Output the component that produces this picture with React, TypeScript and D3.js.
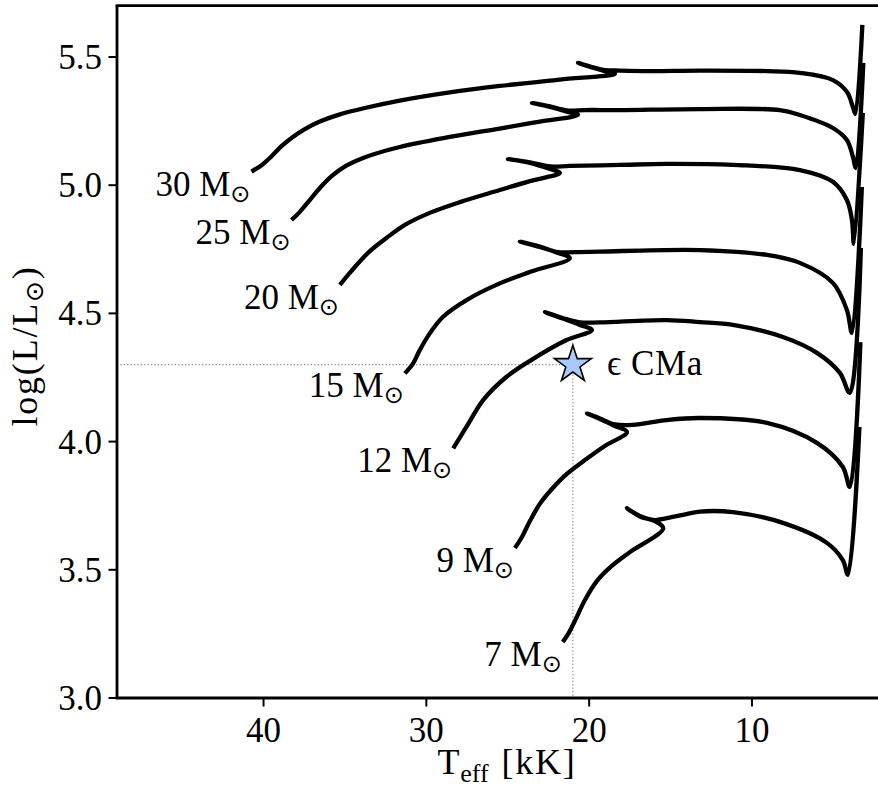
import React from "react";
import * as d3 from "d3";

// Evolutionary tracks: [Teff (kK), log(L/Lsun)]
const masses = [30, 25, 20, 15, 12, 9, 7];

const track30: [number, number][] = [
  [40.74, 5.053], [40.1, 5.079], [39.49, 5.114], [38.88, 5.153], [38.2, 5.188], [37.46, 5.219],
  [36.54, 5.248], [35.31, 5.276], [33.78, 5.301], [31.63, 5.33], [28.56, 5.362], [25.49, 5.387],
  [21.8, 5.412], [18.42, 5.434],
  [19.04, 5.445], [19.83, 5.459], [20.69, 5.477],
  [19.83, 5.461], [19.04, 5.449], [18.11, 5.447], [16.27, 5.445], [13.2, 5.447], [9.08, 5.445],
  [7.06, 5.438], [5.03, 5.41], [4.17, 5.364], [3.8, 5.305], [3.65, 5.278], [3.22, 5.625],
];
const track25: [number, number][] = [
  [38.28, 4.864], [37.77, 4.896], [37.16, 4.942], [36.54, 4.989], [35.8, 5.036], [34.94, 5.075],
  [33.72, 5.11], [31.63, 5.149], [28.56, 5.188], [25.49, 5.221], [23.03, 5.248],
  [20.69, 5.274],
  [21.31, 5.286], [22.41, 5.305], [23.52, 5.321],
  [22.41, 5.307], [21.31, 5.291], [20.26, 5.293], [18.11, 5.293], [13.2, 5.297], [8.29, 5.293],
  [7.06, 5.274], [5.03, 5.223], [4.17, 5.176], [3.8, 5.11], [3.62, 5.067], [3.16, 5.477],
];
const track20: [number, number][] = [
  [35.31, 4.611], [34.61, 4.665], [33.53, 4.739], [32.45, 4.794], [31.32, 4.845], [29.79, 4.892],
  [27.94, 4.934], [25.49, 4.981], [23.64, 5.016], [21.8, 5.048],
  [22.41, 5.063], [23.64, 5.087], [24.99, 5.102],
  [23.64, 5.089], [22.41, 5.073], [21.19, 5.075], [18.11, 5.079], [15.23, 5.083], [11.17, 5.079],
  [7.06, 5.059], [5.03, 5.013], [4.17, 4.942], [3.86, 4.864], [3.74, 4.771], [3.19, 5.282],
];
const track15: [number, number][] = [
  [31.32, 4.266], [30.81, 4.305], [30.4, 4.357], [29.79, 4.422], [28.97, 4.487], [27.53, 4.552],
  [25.49, 4.617], [23.56, 4.663], [21.19, 4.715],
  [21.92, 4.736], [23.03, 4.759], [24.26, 4.78],
  [23.03, 4.761], [21.92, 4.739], [20.88, 4.739], [19.34, 4.741], [13.2, 4.747], [9.08, 4.728],
  [7.06, 4.697], [5.03, 4.619], [4.17, 4.513], [3.86, 4.424], [3.25, 4.993],
];
const track12: [number, number][] = [
  [28.35, 3.974], [27.53, 4.058], [26.51, 4.162], [25.07, 4.253], [23.56, 4.318], [21.39, 4.396],
  [19.83, 4.435],
  [20.57, 4.455], [21.62, 4.48], [22.72, 4.505],
  [21.62, 4.482], [20.57, 4.465], [19.34, 4.465], [15.23, 4.474], [13.2, 4.466], [11.17, 4.455],
  [8.1, 4.408], [6.01, 4.346], [4.6, 4.268], [3.99, 4.19], [3.31, 4.755],
];
const track9: [number, number][] = [
  [24.56, 3.585], [24.13, 3.628], [23.64, 3.69], [23.03, 3.757], [22.29, 3.815], [21.37, 3.874],
  [20.26, 3.928], [19.04, 3.983], [17.68, 4.037],
  [18.42, 4.061], [19.34, 4.088], [20.14, 4.11],
  [19.34, 4.09], [18.42, 4.067], [17.32, 4.065], [15.23, 4.084], [13.2, 4.092], [9.08, 4.073],
  [6.01, 3.995], [4.42, 3.901], [3.99, 3.823], [3.34, 4.388],
];
const track7: [number, number][] = [
  [21.62, 3.218], [21.25, 3.254], [20.82, 3.308], [20.26, 3.382], [19.53, 3.456], [18.61, 3.515],
  [17.5, 3.569], [15.45, 3.662],
  [15.96, 3.69], [16.89, 3.708], [17.68, 3.74],
  [16.89, 3.71], [15.96, 3.694], [15.35, 3.7], [14.24, 3.714], [13.2, 3.727], [11.17, 3.725],
  [8.1, 3.683], [5.4, 3.605], [4.42, 3.538], [4.11, 3.48], [3.4, 4.057],
];
const tracks = [track30, track25, track20, track15, track12, track9, track7];

const starTeff = 21.0;
const starLogL = 4.3;
const starName = "\u03f5 CMa";

const xTicks = [40, 30, 20, 10];
const yTicks = [3.0, 3.5, 4.0, 4.5, 5.0, 5.5];
const xDomain: [number, number] = [49, 1];
const yDomain: [number, number] = [3.0, 5.7];

const W = 878;
const H = 791;
const left = 117;
const bottom = 698;
const xs = d3.scaleLinear().domain(xDomain).range([left, 898.5]);
const ys = d3.scaleLinear().domain(yDomain).range([bottom, 5.7]);

const FONT = "'Liberation Serif', 'DejaVu Serif', serif";
const FS = 35;
const LFS = 36;

export default function App() {
  const line = d3
    .line<[number, number]>()
    .x((d) => xs(d[0]))
    .y((d) => ys(d[1]))
    .curve(d3.curveCatmullRom.alpha(0.5));
  const starPath = d3.symbol(d3.symbolStar, 425)() as string;
  const sx = xs(starTeff);
  const sy = ys(starLogL);
  const top = ys(yDomain[1]);
  const right = xs(xDomain[1]);

  return (
    <svg
      width={W}
      height={H}
      style={{ position: "absolute", left: 0, top: 0, background: "#fff" }}
      fontFamily={FONT}
    >
      <rect x={0} y={0} width={W} height={H} fill="#fff" />
      {/* dotted guide lines */}
      <line x1={left} x2={sx} y1={sy} y2={sy} stroke="#888" strokeWidth={1.2} strokeDasharray="1.2,2.2" />
      <line x1={sx} x2={sx} y1={sy} y2={bottom} stroke="#888" strokeWidth={1.2} strokeDasharray="1.2,2.2" />
      {/* tracks */}
      {tracks.map((t, i) => (
        <path
          key={i}
          d={line(t) as string}
          fill="none"
          stroke="#000"
          strokeWidth={4.3}
          strokeLinejoin="round"
          strokeLinecap="butt"
        />
      ))}
      {/* track labels */}
      {tracks.map((t, i) => (
        <text
          key={"l" + i}
          x={xs(t[0][0]) - 1}
          y={ys(t[0][1]) + 24}
          textAnchor="end"
          fontSize={FS}
          fill="#000"
        >
          {`${masses[i]} M`}
          <tspan fontSize={24} dy={6} fontFamily="'DejaVu Sans', sans-serif">
            {"\u2299"}
          </tspan>
        </text>
      ))}
      {/* star */}
      <path d={starPath} transform={`translate(${sx},${sy})`} fill="#aac8fa" stroke="#000" strokeWidth={1.6} strokeLinejoin="miter" />
      <text x={sx + 34} y={sy + 10} fontSize={FS} fill="#000" letterSpacing={0.6}>
        {starName}
      </text>
      {/* spines */}
      <line x1={left} x2={left} y1={top} y2={bottom} stroke="#000" strokeWidth={2.8} />
      <line x1={left - 1.4} x2={right} y1={bottom} y2={bottom} stroke="#000" strokeWidth={2.8} />
      <line x1={left - 1.4} x2={right} y1={top} y2={top} stroke="#000" strokeWidth={2.8} />
      {/* x ticks */}
      {xTicks.map((v) => (
        <g key={"x" + v}>
          <line x1={xs(v)} x2={xs(v)} y1={bottom} y2={bottom + 8.5} stroke="#000" strokeWidth={2} />
          <text x={xs(v)} y={741.5} textAnchor="middle" fontSize={FS} fill="#000">
            {v}
          </text>
        </g>
      ))}
      {/* y ticks */}
      {yTicks.map((v) => (
        <g key={"y" + v}>
          <line x1={left - 8.5} x2={left} y1={ys(v)} y2={ys(v)} stroke="#000" strokeWidth={2} />
          <text x={102} y={ys(v) + 12} textAnchor="end" fontSize={FS} fill="#000">
            {v.toFixed(1)}
          </text>
        </g>
      ))}
      {/* axis labels */}
      <text x={507} y={774} textAnchor="middle" fontSize={LFS} fill="#000" letterSpacing={1.8}>
        T
        <tspan fontSize={26} dy={8} letterSpacing={0} dx={-1}>eff</tspan>
        <tspan dy={-8} dx={2}>{" [kK]"}</tspan>
      </text>
      <text transform={`translate(37,346) rotate(-90)`} textAnchor="middle" fontSize={LFS} fill="#000" letterSpacing={1.8}>
        log(L/L
        <tspan fontSize={25} dy={6} fontFamily="'DejaVu Sans', sans-serif">
          {"\u2299"}
        </tspan>
        <tspan dy={-6}>)</tspan>
      </text>
    </svg>
  );
}
